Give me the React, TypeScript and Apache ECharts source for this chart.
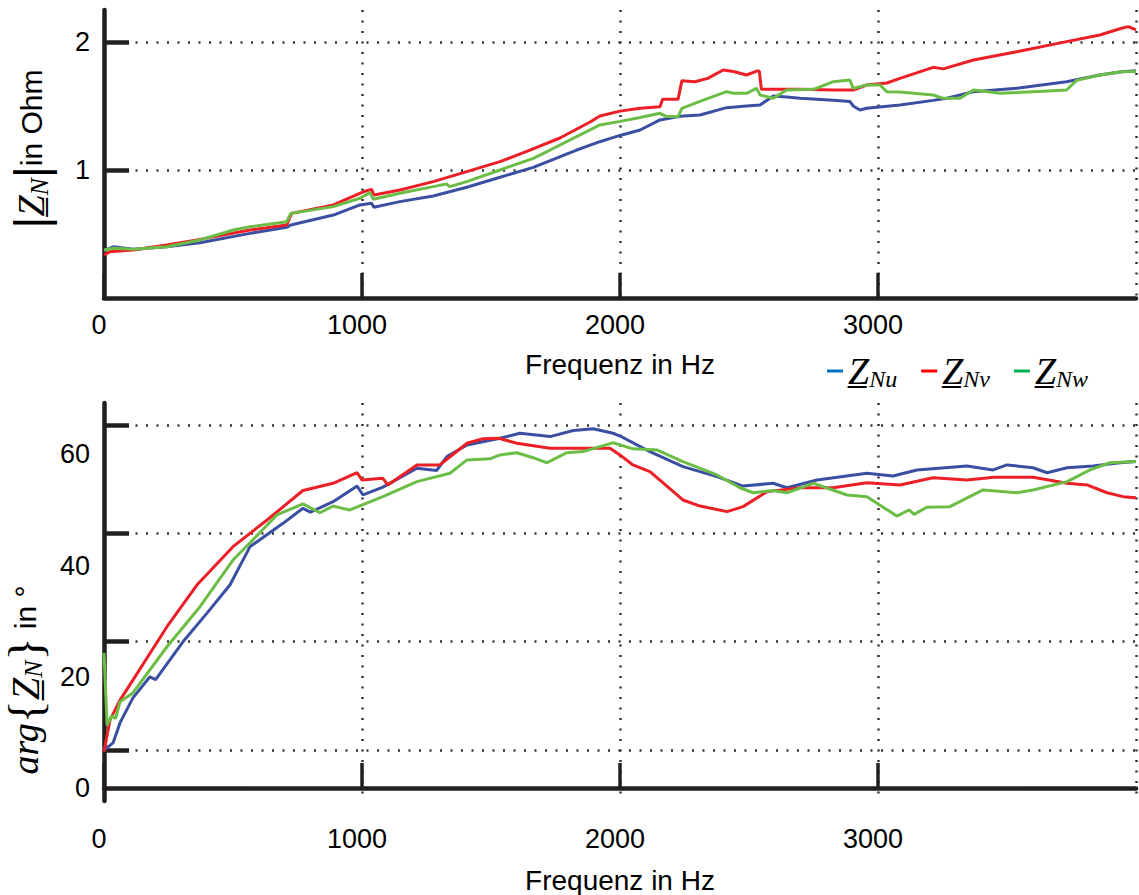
import React, { useEffect, useRef } from "react";
import * as echarts from "echarts";

// ---- axes / ticks ----
const freqMin = 0;
const freqMax = 4000;
const freqInterval = 1000;
const magTicks = [1, 2];
const magMax = 2.25;
const phaseLabels = [0, 20, 40, 60];
const phaseGridTicks = [6.83, 26.31, 45.86, 65.29];
const phaseMin = -2.34;
const phaseMax = 69.24;

// ---- series ----
const seriesNames = ["Z_Nu", "Z_Nv", "Z_Nw"];
const lineColors = ["#3b4fa2", "#ec1f26", "#6cbd45"];
const legendColors = ["#0070c0", "#ff0000", "#00b050"];

// |Z_N| in Ohm  [frequency Hz, value]
const magU = [
  [0, 0.37], [36, 0.4], [114, 0.38], [243, 0.4], [372, 0.432], [566, 0.505], [708, 0.552], [724, 0.57],
  [889, 0.648], [992, 0.727], [1037, 0.74], [1046, 0.709], [1147, 0.753], [1276, 0.797], [1406, 0.865],
  [1535, 0.943], [1664, 1.021], [1832, 1.156], [1922, 1.221], [2000, 1.27], [2078, 1.3125], [2155, 1.391],
  [2233, 1.42], [2310, 1.43], [2413, 1.487], [2491, 1.5], [2543, 1.508], [2594, 1.578], [2646, 1.57],
  [2698, 1.56], [2827, 1.544], [2891, 1.536], [2904, 1.5], [2930, 1.469], [2956, 1.482], [3085, 1.508],
  [3214, 1.544], [3267, 1.56], [3370, 1.612], [3538, 1.638], [3731, 1.69], [3860, 1.742], [3944, 1.768],
  [4000, 1.775],
];
const magV = [
  [0, 0.336], [23, 0.362], [114, 0.375], [243, 0.414], [372, 0.458], [566, 0.531], [708, 0.57], [727, 0.661],
  [889, 0.727], [1005, 0.83], [1037, 0.849], [1046, 0.805], [1147, 0.844], [1276, 0.909], [1406, 0.987],
  [1535, 1.065], [1651, 1.156], [1767, 1.25], [1884, 1.375], [1922, 1.422], [2000, 1.46], [2078, 1.482],
  [2155, 1.495], [2165, 1.552], [2225, 1.552], [2240, 1.698], [2290, 1.69], [2340, 1.716], [2400, 1.781],
  [2440, 1.77], [2490, 1.742], [2530, 1.773], [2540, 1.773], [2548, 1.63], [2698, 1.63], [2827, 1.625],
  [2904, 1.625], [2956, 1.664], [3034, 1.68], [3085, 1.716], [3214, 1.802], [3253, 1.79], [3370, 1.859],
  [3538, 1.924], [3731, 2.003], [3860, 2.055], [3944, 2.107], [3970, 2.12], [4000, 2.094],
];
const magW = [
  [0, 0.375], [36, 0.388], [114, 0.38], [243, 0.4], [372, 0.453], [501, 0.531], [566, 0.557], [708, 0.596],
  [724, 0.661], [889, 0.714], [992, 0.779], [1031, 0.823], [1044, 0.771], [1147, 0.818], [1276, 0.87],
  [1328, 0.89], [1340, 0.87], [1406, 0.909], [1535, 1.0], [1664, 1.091], [1729, 1.156], [1922, 1.352],
  [2000, 1.38], [2078, 1.41], [2155, 1.443], [2181, 1.417], [2225, 1.417], [2240, 1.482], [2310, 1.536],
  [2413, 1.612], [2440, 1.6], [2491, 1.599], [2529, 1.638], [2543, 1.586], [2594, 1.56], [2646, 1.625],
  [2750, 1.63], [2827, 1.69], [2891, 1.703], [2904, 1.638], [2956, 1.664], [3008, 1.664], [3034, 1.612],
  [3085, 1.61], [3214, 1.586], [3253, 1.56], [3318, 1.56], [3370, 1.625], [3473, 1.599], [3602, 1.612],
  [3731, 1.625], [3770, 1.7], [3860, 1.742], [3944, 1.768], [4000, 1.77],
];

// arg{Z_N} in degree  [frequency Hz, value]
const phaseU = [
  [0, 6.8], [35, 8.1], [62, 11.7], [112, 16.2], [178, 20.0], [200, 19.5], [306, 26.3], [400, 31.5],
  [488, 36.5], [566, 43.4], [694, 47.6], [771, 50.3], [800, 49.6], [888, 51.5], [981, 54.3], [1004, 52.7],
  [1081, 54.1], [1213, 57.5], [1289, 57.1], [1329, 59.6], [1407, 61.7], [1535, 62.9], [1612, 63.8],
  [1729, 63.2], [1819, 64.3], [1896, 64.6], [1973, 63.8], [2000, 63.3], [2116, 60.5], [2244, 57.8],
  [2376, 56.0], [2477, 54.3], [2593, 54.8], [2647, 54.0], [2764, 55.4], [2957, 56.6], [3058, 56.1],
  [3151, 57.2], [3345, 57.9], [3446, 57.2], [3500, 58.1], [3601, 57.6], [3655, 56.7], [3733, 57.6],
  [3833, 57.9], [3938, 58.5], [4000, 58.7],
];
const phaseV = [
  [0, 6.5], [23, 12.2], [62, 15.8], [112, 19.4], [244, 29.0], [360, 36.5], [500, 43.4], [632, 48.2],
  [771, 53.5], [888, 54.8], [981, 56.7], [1000, 55.4], [1081, 55.7], [1100, 54.5], [1213, 58.1],
  [1302, 58.1], [1407, 62.0], [1469, 62.8], [1530, 62.9], [1600, 62.0], [1729, 61.1], [1857, 61.1],
  [1961, 61.1], [2000, 59.9], [2050, 58.1], [2116, 56.9], [2244, 51.8], [2310, 50.7], [2415, 49.7],
  [2477, 50.6], [2570, 53.3], [2698, 54.0], [2826, 54.0], [2957, 54.9], [3085, 54.5], [3213, 55.8],
  [3345, 55.4], [3450, 55.9], [3601, 55.9], [3733, 54.8], [3810, 54.5], [3888, 53.1], [3950, 52.4],
  [4000, 52.2],
];
const phaseW = [
  [0, 24.3], [12, 11.3], [30, 13.0], [45, 12.5], [62, 15.5], [112, 17.1], [244, 25.4], [372, 32.6],
  [500, 41.0], [566, 44.1], [670, 49.1], [771, 51.1], [837, 49.5], [888, 50.7], [953, 50.0], [1081, 52.4],
  [1213, 55.1], [1341, 56.6], [1407, 59.0], [1496, 59.2], [1535, 59.9], [1600, 60.3], [1663, 59.4],
  [1717, 58.5], [1794, 60.3], [1857, 60.5], [1922, 61.4], [1973, 62.1], [2050, 61.0], [2143, 60.8],
  [2244, 58.7], [2376, 56.3], [2465, 54.0], [2516, 53.1], [2593, 53.5], [2647, 53.1], [2749, 54.8],
  [2880, 52.7], [2957, 52.4], [3073, 48.9], [3120, 50.0], [3140, 49.2], [3189, 50.5], [3279, 50.6],
  [3407, 53.6], [3539, 53.1], [3601, 53.6], [3733, 55.1], [3822, 57.2], [3899, 58.5], [4000, 58.7],
];

const magData = [magU, magV, magW];
const phaseData = [phaseU, phaseV, phaseW];

const INK = "#231f20";
const SANS = "'Liberation Sans', Arial, sans-serif";
const SERIF = "'Liberation Serif', 'DejaVu Serif', serif";
const gridLine = { show: true, lineStyle: { color: "#333333", width: 2.5, type: [2, 8.5] as any } };

function xAxisDef(gridIndex: number, labelMargin: number, nameGap: number) {
  return {
    type: "value",
    gridIndex,
    min: freqMin,
    max: freqMax,
    interval: freqInterval,
    axisLine: { show: true, lineStyle: { color: INK, width: 4.5 } },
    axisTick: { show: true, inside: true, length: 25, lineStyle: { color: INK, width: 3.5 } },
    axisLabel: {
      show: true,
      margin: labelMargin,
      fontSize: 27,
      fontFamily: SANS,
      color: "#000",
      showMaxLabel: false,
      padding: [0, 10, 0, 0],
      formatter: (v: number) => String(v),
    },
    splitLine: gridLine,
    name: "Frequenz in Hz",
    nameLocation: "middle",
    nameGap,
    nameTextStyle: { fontSize: 28, fontFamily: SANS, color: "#000" },
  };
}

export default function App() {
  const ref = useRef<HTMLDivElement>(null);
  useEffect(() => {
    if (!ref.current) return;
    const chart = echarts.init(ref.current, null, { renderer: "svg" });
    const series: any[] = [];
    seriesNames.forEach((n, i) => {
      series.push({
        type: "line",
        name: n,
        xAxisIndex: 0,
        yAxisIndex: 0,
        data: magData[i],
        showSymbol: false,
        symbol: "none",
        lineStyle: { width: 3, color: lineColors[i] },
        itemStyle: { color: lineColors[i] },
      });
    });
    seriesNames.forEach((n, i) => {
      series.push({
        type: "line",
        name: n,
        xAxisIndex: 1,
        yAxisIndex: 1,
        data: phaseData[i],
        showSymbol: false,
        symbol: "none",
        lineStyle: { width: 3, color: lineColors[i] },
        itemStyle: { color: lineColors[i] },
      });
    });

    chart.setOption({
      animation: false,
      backgroundColor: "#fff",
      grid: [
        { left: 104, right: 3, top: 10, height: 288, outerBoundsMode: "none" },
        { left: 104, right: 3, top: 403, height: 398, outerBoundsMode: "none" },
      ],
      xAxis: [xAxisDef(0, 13, 52), xAxisDef(1, 24, 65)],
      yAxis: [
        {
          type: "value",
          gridIndex: 0,
          min: 0,
          max: magMax,
          axisLine: { show: true, lineStyle: { color: INK, width: 4.5 } },
          axisTick: { show: true, inside: true, length: 25, customValues: magTicks, lineStyle: { color: INK, width: 4.5 } },
          axisLabel: { show: true, customValues: magTicks, margin: 14, fontSize: 27, fontFamily: SANS, color: "#000" },
          splitLine: gridLine,
          name: "{bar||}{zz|Z\u0332}{sub|N}{bar||}{unit|in Ohm}",
          nameLocation: "middle",
          nameRotate: 90,
          nameGap: 48,
          nameTextStyle: {
            color: "#000",
            fontSize: 46,
            fontFamily: SANS,
            padding: [0, 0, 0, 10],
            rich: {
              bar: { fontSize: 46, fontFamily: SANS, color: "#000", lineHeight: 50 },
              zz: { fontSize: 38, fontFamily: SERIF, fontStyle: "italic", color: "#000", lineHeight: 50 },
              sub: { fontSize: 26, fontFamily: SERIF, fontStyle: "italic", color: "#000", lineHeight: 50, padding: [16, 0, 0, 0] },
              unit: { fontSize: 30, fontFamily: SANS, color: "#000", lineHeight: 50 },
            },
          },
        },
        {
          type: "value",
          gridIndex: 1,
          min: phaseMin,
          max: phaseMax,
          axisLine: { show: true, lineStyle: { color: INK, width: 4.5 } },
          axisTick: { show: true, inside: true, length: 25, customValues: phaseGridTicks, lineStyle: { color: INK, width: 4.5 } },
          axisLabel: { show: true, customValues: phaseLabels, margin: 14, fontSize: 27, fontFamily: SANS, color: "#000" },
          splitLine: gridLine,
          name: "{a|arg}{b|{}{zz|Z\u0332}{sub|N}}{unit| in °}",
          nameLocation: "middle",
          nameRotate: 90,
          nameGap: 48,
          nameTextStyle: {
            color: "#000",
            fontSize: 48,
            fontFamily: SERIF,
            padding: [0, 156, 0, 0],
            rich: {
              a: { fontSize: 38, fontFamily: SERIF, fontStyle: "italic", color: "#000", lineHeight: 52 },
              b: { fontSize: 48, fontFamily: SERIF, color: "#000", lineHeight: 52 },
              zz: { fontSize: 40, fontFamily: SERIF, fontStyle: "italic", color: "#000", lineHeight: 52 },
              sub: { fontSize: 26, fontFamily: SERIF, fontStyle: "italic", color: "#000", lineHeight: 52, padding: [16, 0, 0, 0] },
              unit: { fontSize: 30, fontFamily: SANS, color: "#000", lineHeight: 52 },
            },
          },
        },
      ],
      legend: {
        show: true,
        left: 822,
        top: 346,
        itemWidth: 16,
        itemHeight: 3,
        itemGap: 24,
        icon: "rect",
        data: seriesNames.map((n, i) => ({
          name: n,
          itemStyle: { color: legendColors[i] },
        })),
        formatter: (n: string) => `{zz|Z\u0332}{sub|${n.slice(2)}}`,
        textStyle: {
          padding: [0, 0, 0, 0],
          rich: {
            zz: { fontSize: 38, fontFamily: SERIF, fontStyle: "italic", color: "#000", lineHeight: 44 },
            sub: { fontSize: 24, fontFamily: SERIF, fontStyle: "italic", color: "#000", lineHeight: 44, padding: [16, 0, 0, 0] },
          },
        },
      },
      series,
    });
    return () => chart.dispose();
  }, []);
  return (
    <div
      ref={ref}
      style={{ position: "absolute", left: 0, top: 0, width: 1139, height: 895, background: "#fff" }}
    />
  );
}
